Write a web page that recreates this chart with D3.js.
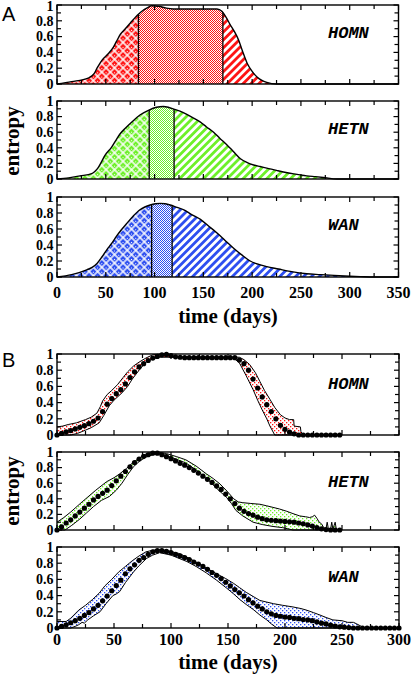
<!DOCTYPE html>
<html><head><meta charset="utf-8">
<script src="https://cdn.jsdelivr.net/npm/d3@7"></script>
<style>html,body{margin:0;padding:0;background:#fff}svg{display:block}</style>
</head><body>
<svg id="c" width="412" height="679"></svg>
<script>
// ---------------- DATA ----------------
const netNames = ["HOMN", "HETN", "WAN"];
const netColors = ["#ff1414", "#6ef02a", "#2e4ff0"];

// Panel A: normalized entropy curves [day, value]
const aHomn = [[0,0],[15,0.03],[32,0.075],[38,0.13],[41,0.2],[46,0.30],[53,0.39],[58,0.47],[61,0.54],[65,0.63],[70,0.70],[75,0.77],[80,0.84],[84,0.89],[88,0.93],[92,0.96],[97,0.99],[104,0.985],[112,0.96],[119,0.95],[147,0.95],[164,0.95],[169,0.92],[173,0.85],[177.6,0.75],[182,0.66],[186,0.56],[190,0.42],[195,0.26],[200,0.16],[205,0.09],[210,0.045],[215,0.02],[225,0],[350,0]];
const aHetn = [[0,0],[12,0.015],[23.6,0.04],[35.6,0.07],[39,0.1],[42.4,0.15],[46,0.23],[49,0.30],[56,0.41],[60,0.49],[64.7,0.58],[70,0.65],[76.7,0.73],[85,0.82],[93.7,0.88],[102,0.92],[109,0.93],[114,0.92],[119,0.90],[126,0.87],[133,0.83],[140,0.78],[147,0.73],[153,0.67],[160.5,0.60],[167,0.52],[174,0.44],[181,0.35],[188,0.26],[195,0.21],[201.5,0.18],[208,0.16],[215,0.14],[225,0.11],[236,0.08],[246,0.06],[256,0.04],[265,0.03],[273,0.02],[287,0],[350,0]];
const aWan = [[0,0],[15,0.03],[30.5,0.09],[36,0.12],[41,0.17],[46,0.25],[51,0.34],[56,0.42],[61,0.51],[66,0.59],[71.5,0.67],[78,0.76],[85,0.84],[90,0.875],[95.5,0.90],[101,0.915],[106,0.92],[111,0.915],[116,0.90],[123,0.87],[130,0.84],[138,0.78],[147,0.72],[155,0.64],[164,0.55],[172,0.46],[181,0.36],[189,0.28],[198,0.20],[206,0.16],[215,0.13],[227,0.10],[239,0.07],[256,0.04],[270,0.03],[284,0.02],[300,0.01],[311,0.005],[325,0],[350,0]];
// Panel A: phase boundaries (days)
const aHomnBounds = [83.5, 170];
const aHetnBounds = [94.5, 120];
const aWanBounds = [97, 118];

// Panel B: mean entropy, one value every 4 days from day 0
const bHomnMean = [0,0.02,0.04,0.055,0.075,0.095,0.115,0.14,0.17,0.21,0.29,0.38,0.45,0.51,0.56,0.63,0.71,0.78,0.84,0.88,0.92,0.95,0.97,0.99,0.995,0.98,0.965,0.96,0.955,0.955,0.955,0.955,0.955,0.955,0.955,0.955,0.955,0.955,0.955,0.955,0.925,0.88,0.80,0.69,0.58,0.47,0.375,0.29,0.20,0.12,0.07,0.035,0.015,0,0,0,0,0,0,0,0,0,0];
const bHetnMean = [0,0.04,0.09,0.13,0.18,0.23,0.28,0.33,0.385,0.43,0.47,0.51,0.57,0.63,0.69,0.75,0.81,0.865,0.91,0.945,0.965,0.985,0.985,0.965,0.94,0.915,0.885,0.855,0.83,0.80,0.765,0.73,0.69,0.65,0.61,0.565,0.52,0.46,0.40,0.34,0.28,0.24,0.21,0.19,0.165,0.145,0.13,0.125,0.12,0.115,0.11,0.105,0.10,0.09,0.08,0.065,0.05,0.03,0.015,0.005,0,0,0];
const bWanMean = [0,0.02,0.04,0.065,0.09,0.12,0.155,0.19,0.235,0.28,0.335,0.395,0.46,0.525,0.59,0.67,0.73,0.78,0.835,0.87,0.91,0.94,0.955,0.955,0.945,0.93,0.91,0.89,0.87,0.845,0.815,0.79,0.76,0.725,0.685,0.65,0.61,0.565,0.52,0.475,0.435,0.395,0.35,0.31,0.27,0.235,0.20,0.175,0.155,0.145,0.135,0.13,0.12,0.115,0.105,0.10,0.09,0.075,0.06,0.05,0.035,0.025,0.015,0.01,0.005,0,0,0,0,0,0,0,0,0,0,0];
// Panel B: spread envelopes [day, value]
const bHomnUpper = [[0,0.1],[5,0.11],[10,0.13],[17,0.15],[25,0.19],[30,0.22],[35,0.27],[38,0.35],[40,0.42],[44,0.5],[48,0.55],[53,0.62],[58,0.71],[62,0.78],[67,0.85],[72,0.9],[78,0.95],[84,0.99],[93,1.0],[100,0.98],[105,0.965],[120,0.96],[160,0.96],[164,0.93],[169,0.87],[174,0.77],[178,0.66],[182,0.55],[186.8,0.44],[191,0.34],[196,0.25],[200,0.21],[204,0.19],[207.6,0.19],[208,0.11],[213.5,0.1],[214,0.04],[216,0],[250,0]];
const bHomnLower = [[0,0],[12,0],[18,0.02],[25,0.06],[30,0.09],[37,0.15],[41,0.24],[45.8,0.36],[50,0.43],[57,0.52],[62,0.60],[66,0.69],[72,0.80],[78,0.9],[84,0.94],[90,0.96],[100,0.96],[110,0.955],[155,0.95],[160,0.89],[166,0.73],[172,0.56],[176,0.43],[180,0.31],[184,0.2],[186.8,0.11],[191,0],[250,0]];
const bHetnUpper = [[0,0.1],[6,0.16],[12,0.23],[22,0.36],[34,0.51],[43.6,0.62],[50,0.67],[55,0.72],[61,0.79],[67,0.87],[73,0.93],[78.7,0.98],[84,1.0],[90,0.995],[96,0.98],[105,0.94],[113,0.9],[122,0.82],[131,0.72],[137,0.66],[143,0.59],[149,0.5],[155,0.40],[159,0.36],[163,0.35],[170,0.34],[178,0.33],[184,0.31],[189.5,0.29],[195,0.27],[201.5,0.24],[207,0.21],[213,0.18],[218,0.17],[221.5,0.16],[224,0.17],[226,0.19],[228,0.15],[230,0.10],[232,0.08],[234,0.03],[236,0.02],[237,0.1],[238,0.02],[240,0.01],[241,0.1],[242,0.01],[244,0.1],[245,0.01],[250,0]];
const bHetnLower = [[0,0],[7,0],[13,0.06],[20,0.14],[26,0.22],[32,0.30],[39,0.38],[46,0.43],[52,0.51],[57,0.60],[62,0.71],[67,0.81],[73,0.89],[79,0.94],[87,0.98],[95,0.96],[104,0.91],[113,0.86],[124,0.75],[134,0.62],[141,0.52],[148.6,0.42],[153,0.34],[157,0.25],[163,0.18],[172,0.10],[180,0.07],[189.5,0.045],[198,0.03],[207,0],[250,0]];
const bWanUpper = [[0,0.08],[8,0.08],[12,0.12],[19,0.22],[25,0.28],[31,0.35],[37,0.43],[42,0.52],[48,0.6],[54,0.69],[60,0.76],[66,0.83],[72,0.89],[78,0.94],[84,0.96],[90,0.97],[98,0.95],[107,0.92],[116,0.86],[125,0.79],[132,0.73],[140,0.67],[148,0.61],[155,0.55],[160,0.5],[166,0.44],[172,0.39],[178,0.34],[184,0.32],[190,0.30],[198,0.28],[207,0.26],[214,0.24],[219,0.22],[225,0.19],[230.7,0.16],[236,0.13],[242,0.10],[250,0.09],[255,0.07],[260,0.07],[263,0.05],[267,0.02],[270,0],[300,0]];
const bWanLower = [[0,0],[12,0],[16,0.02],[19,0.04],[22,0.07],[24,0.06],[27,0.1],[32,0.15],[37.7,0.2],[43,0.3],[49,0.40],[52,0.42],[55,0.45],[60,0.56],[67,0.69],[72,0.77],[78.7,0.86],[84,0.9],[90,0.93],[100,0.9],[114,0.82],[122,0.76],[131,0.68],[140,0.59],[149,0.49],[155,0.42],[160.5,0.35],[166,0.29],[172,0.23],[178,0.16],[184,0.10],[188,0.05],[193,0],[300,0]];
const bMeanStep = 4;

// Ticks
const xTicksA = [0,50,100,150,200,250,300,350];
const xTicksB = [0,50,100,150,200,250,300];
const yTicks = [0,0.2,0.4,0.6,0.8,1];
const yTickLabels = ["0","0.2","0.4","0.6","0.8","1"];

// ---------------- LAYOUT ----------------
const serif = "'Liberation Serif','Times New Roman',serif";
const svg = d3.select("#c");
const defs = svg.append("defs");

const panelsA = [
  {top:5, bottom:84, data:aHomn, bounds:aHomnBounds},
  {top:101, bottom:179, data:aHetn, bounds:aHetnBounds},
  {top:197, bottom:277, data:aWan, bounds:aWanBounds}
];
const panelsB = [
  {top:354, bottom:435, mean:bHomnMean, up:bHomnUpper, lo:bHomnLower},
  {top:452, bottom:530, mean:bHetnMean, up:bHetnUpper, lo:bHetnLower},
  {top:547, bottom:628, mean:bWanMean, up:bWanUpper, lo:bWanLower}
];

const xA = d3.scaleLinear().domain([0,350]).range([57,398.5]);
const xB = d3.scaleLinear().domain([0,300]).range([57,399]);

// ---------------- PATTERNS ----------------
netColors.forEach((c,i)=>{
  const w = defs.append("pattern").attr("id","weave"+i).attr("patternUnits","userSpaceOnUse")
    .attr("width",6).attr("height",6).attr("patternTransform","rotate(45)");
  w.append("rect").attr("width",6).attr("height",6).attr("fill",c);
  w.append("path").attr("d","M0,3H6M3,0V6").attr("stroke","#fff").attr("stroke-width",1.4);
  w.append("rect").attr("x",0).attr("y",0).attr("width",1).attr("height",1).attr("fill","#fff");

  const ch = defs.append("pattern").attr("id","check"+i).attr("patternUnits","userSpaceOnUse")
    .attr("width",2).attr("height",2);
  ch.append("rect").attr("width",2).attr("height",2).attr("fill","#fff");
  ch.append("rect").attr("width",1).attr("height",1).attr("fill",c);
  ch.append("rect").attr("x",1).attr("y",1).attr("width",1).attr("height",1).attr("fill",c);

  const st = defs.append("pattern").attr("id","stripe"+i).attr("patternUnits","userSpaceOnUse")
    .attr("width",5.6).attr("height",5.6).attr("patternTransform","rotate(45)");
  st.append("rect").attr("width",5.6).attr("height",5.6).attr("fill","#fff");
  st.append("rect").attr("width",2.8).attr("height",5.6).attr("fill",c);

  const dt = defs.append("pattern").attr("id","dots"+i).attr("patternUnits","userSpaceOnUse")
    .attr("width",4).attr("height",4);
  dt.append("rect").attr("width",4).attr("height",4).attr("fill","#fff");
  dt.append("rect").attr("width",1.3).attr("height",1.3).attr("fill",c);
  dt.append("rect").attr("x",2).attr("y",2).attr("width",1.3).attr("height",1.3).attr("fill",c);
});

// ---------------- FRAME / AXES ----------------
function frame(g, x, y, xmax, top, bottom, showX, labelY){
  const x0 = x.range()[0], x1 = x.range()[1];
  const ticksX = d3.range(0, xmax+0.1, 25);
  ticksX.forEach(t=>{
    const len = t % 50 === 0 ? 5 : 4;
    g.append("line").attr("x1",x(t)).attr("x2",x(t)).attr("y1",bottom).attr("y2",bottom-len).attr("stroke","#000").attr("stroke-width",1.2);
    g.append("line").attr("x1",x(t)).attr("x2",x(t)).attr("y1",top).attr("y2",top+len).attr("stroke","#000").attr("stroke-width",1.2);
  });
  d3.range(0, 11).forEach(k=>{
    const v = k/10, len = k % 2 === 0 ? 5 : 4;
    g.append("line").attr("x1",x0).attr("x2",x0+len).attr("y1",y(v)).attr("y2",y(v)).attr("stroke","#000").attr("stroke-width",1.2);
    g.append("line").attr("x1",x1).attr("x2",x1-len).attr("y1",y(v)).attr("y2",y(v)).attr("stroke","#000").attr("stroke-width",1.2);
  });
  g.append("rect").attr("x",x0).attr("y",top).attr("width",x1-x0).attr("height",bottom-top)
    .attr("fill","none").attr("stroke","#000").attr("stroke-width",1.4);
  yTicks.forEach((v,k)=>{
    g.append("text").attr("x",53.5).attr("y",Math.max(y(v), 6)).attr("dy","0.34em").attr("text-anchor","end")
      .attr("font-family",serif).attr("font-weight","bold").attr("font-size",14).text(yTickLabels[k]);
  });
  if(showX){
    showX.forEach(t=>{
      g.append("text").attr("x",x(t)).attr("y",labelY).attr("text-anchor","middle")
        .attr("font-family",serif).attr("font-weight","bold").attr("font-size",16).text(t);
    });
  }
}

function netLabel(g, i, yb){
  g.append("text").attr("x",328).attr("y",yb)
    .attr("font-family","'Liberation Mono','Courier New',monospace").attr("font-weight","bold").attr("font-style","italic")
    .attr("font-size",17).text(netNames[i]);
}

// ---------------- PANEL A ----------------
panelsA.forEach((p,i)=>{
  const g = svg.append("g");
  const y = d3.scaleLinear().domain([0,1]).range([p.bottom,p.top]);
  const area = d3.area().x(d=>xA(d[0])).y0(y(0)).y1(d=>y(d[1])).curve(d3.curveMonotoneX);
  const line = d3.line().x(d=>xA(d[0])).y(d=>y(d[1])).curve(d3.curveMonotoneX);
  const cuts = [0, p.bounds[0], p.bounds[1], 350];
  const fills = ["weave","check","stripe"];
  fills.forEach((f,k)=>{
    const cid = "clipA"+i+"_"+k;
    defs.append("clipPath").attr("id",cid).append("rect")
      .attr("x",xA(cuts[k])).attr("y",p.top).attr("width",xA(cuts[k+1])-xA(cuts[k])).attr("height",p.bottom-p.top);
    g.append("path").attr("d",area(p.data)).attr("fill",`url(#${f}${i})`).attr("clip-path",`url(#${cid})`);
  });
  const acid = "clipArea"+i;
  defs.append("clipPath").attr("id",acid).append("path").attr("d",area(p.data));
  p.bounds.forEach(b=>{
    g.append("line").attr("x1",xA(b)).attr("x2",xA(b)).attr("y1",p.bottom).attr("y2",p.top)
      .attr("stroke","#000").attr("stroke-width",1.3).attr("clip-path",`url(#${acid})`);
  });
  g.append("path").attr("d",line(p.data)).attr("fill","none").attr("stroke","#000").attr("stroke-width",1.4);
  frame(g, xA, y, 350, p.top, p.bottom, i===2 ? xTicksA : null, 298);
  netLabel(g, i, p.top+33);
});

// ---------------- PANEL B ----------------
panelsB.forEach((p,i)=>{
  const g = svg.append("g");
  const y = d3.scaleLinear().domain([0,1]).range([p.bottom,p.top]);
  const line = d3.line().x(d=>xB(d[0])).y(d=>y(d[1]));
  const poly = p.up.concat(p.lo.slice().reverse());
  g.append("path").attr("d",line(poly)+"Z").attr("fill",`url(#dots${i})`).attr("stroke","none");
  g.append("path").attr("d",line(p.up)).attr("fill","none").attr("stroke","#000").attr("stroke-width",1);
  g.append("path").attr("d",line(p.lo)).attr("fill","none").attr("stroke","#000").attr("stroke-width",1);
  g.selectAll("circle").data(p.mean).enter().append("circle")
    .attr("cx",(d,k)=>xB(k*bMeanStep)).attr("cy",d=>y(d)).attr("r",2.6).attr("fill","#000");
  frame(g, xB, y, 300, p.top, p.bottom, i===2 ? xTicksB : null, 645);
  netLabel(g, i, p.top+35);
});

// ---------------- TITLES ----------------
[[141,"A"],[491,"B"]].forEach(([cy])=>{
  svg.append("text").attr("transform",`translate(18.5,${cy}) rotate(-90)`).attr("text-anchor","middle")
    .attr("font-family",serif).attr("font-weight","bold").attr("font-size",21).text("entropy");
});
svg.append("text").attr("x",228).attr("y",323).attr("text-anchor","middle")
  .attr("font-family",serif).attr("font-weight","bold").attr("font-size",21).text("time (days)");
svg.append("text").attr("x",228).attr("y",669).attr("text-anchor","middle")
  .attr("font-family",serif).attr("font-weight","bold").attr("font-size",21).text("time (days)");
svg.append("text").attr("x",2).attr("y",21).attr("font-family","'Liberation Sans',Arial,sans-serif").attr("font-size",20).text("A");
svg.append("text").attr("x",2).attr("y",367).attr("font-family","'Liberation Sans',Arial,sans-serif").attr("font-size",20).text("B");
</script>
</body></html>
